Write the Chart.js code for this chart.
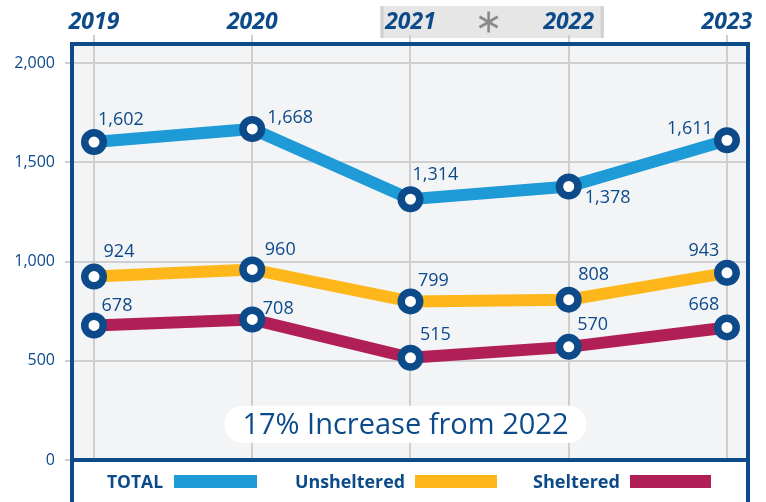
<!DOCTYPE html>
<html>
<head>
<meta charset="utf-8">
<script src="https://cdn.jsdelivr.net/npm/chart.js@4/dist/chart.umd.min.js"></script>
<style>
html,body{margin:0;padding:0;background:#ffffff;}
#wrap{width:766px;height:502px;position:relative;}
</style>
</head>
<body>
<div id="wrap"><canvas id="c" width="766" height="502"></canvas></div>
<script>
// ---- data ----
const years = ['2019', '2020', '2021', '2022', '2023'];
const totalValues = [1602, 1668, 1314, 1378, 1611];
const unshelteredValues = [924, 960, 799, 808, 943];
const shelteredValues = [678, 708, 515, 570, 668];
const yTickValues = [0, 500, 1000, 1500, 2000];
const seriesNames = ['TOTAL', 'Unsheltered', 'Sheltered'];
const noteText = '17% Increase from 2022';

// ---- style ----
const NAVY = '#0c4a8a';
const colors = ['#1e9ad6', '#fdb71b', '#b01f56'];
const labelOffsets = [
  [[27,-22],[38,-11],[25,-24],[39,11],[-37,-11]],
  [[25,-25],[28,-20],[23,-21],[25,-25],[-23,-22]],
  [[23,-20],[26,-11],[25,-23],[24,-22],[-23,-23]]
];
const FONT = '"Open Sans", "Noto Sans", sans-serif';

function pts(vals){ return vals.map((v,i)=>({x:i, y:v})); }

const seriesValues = [totalValues, unshelteredValues, shelteredValues];
const datasets = seriesValues.map((vals, k) => ({
  label: seriesNames[k],
  data: pts(vals),
  borderColor: colors[k],
  backgroundColor: colors[k],
  borderWidth: 12,
  tension: 0,
  pointRadius: 9.25,
  pointHoverRadius: 9.25,
  pointBorderWidth: 7.5,
  pointBorderColor: NAVY,
  pointBackgroundColor: '#ffffff',
  order: 3 - k
}));

const decor = {
  id: 'decor',
  beforeDraw(chart){
    const {ctx, chartArea:a, scales} = chart;
    ctx.save();
    ctx.fillStyle = '#f3f4f6';
    ctx.fillRect(a.left, a.top, a.right - a.left, a.bottom - a.top);
    // header highlight behind 2021 * 2022
    const x1 = scales.x.getPixelForValue(2) - 30;
    const x2 = scales.x.getPixelForValue(3) + 35;
    ctx.fillStyle = '#e6e6e6';
    ctx.fillRect(x1, 6, x2 - x1, 32);
    ctx.fillStyle = '#cfcfcf';
    ctx.fillRect(x1, 6, 3, 32);
    ctx.fillRect(x2 - 3, 6, 3, 32);
    ctx.restore();
  },
  afterDraw(chart){
    const {ctx, chartArea:a, scales} = chart;
    ctx.save();
    // asterisk
    const ax = (scales.x.getPixelForValue(2) + scales.x.getPixelForValue(3)) / 2 - 1;
    ctx.strokeStyle = '#8a8a8a';
    ctx.lineWidth = 2.6;
    for (let i = 0; i < 3; i++) {
      const ang = Math.PI / 2 + i * Math.PI / 3;
      ctx.beginPath();
      ctx.moveTo(ax + Math.cos(ang) * 10.5, 22 + Math.sin(ang) * 10.5);
      ctx.lineTo(ax - Math.cos(ang) * 10.5, 22 - Math.sin(ang) * 10.5);
      ctx.stroke();
    }
    // data labels
    ctx.fillStyle = NAVY;
    ctx.font = '18px ' + FONT;
    ctx.textAlign = 'center';
    ctx.textBaseline = 'middle';
    chart.data.datasets.forEach((ds, k) => {
      const meta = chart.getDatasetMeta(k);
      meta.data.forEach((el, i) => {
        const v = ds.data[i].y;
        const o = labelOffsets[k][i];
        ctx.fillText(v.toLocaleString('en-US'), el.x + o[0], el.y + o[1]);
      });
    });
    // annotation box
    ctx.font = '29px ' + FONT;
    const tw = ctx.measureText(noteText).width;
    const cx = scales.x.getPixelForValue(2) - 5;
    const cy = scales.y.getPixelForValue(180);
    const bw = tw + 36, bh = 37;
    ctx.fillStyle = '#ffffff';
    ctx.beginPath();
    ctx.roundRect(cx - bw/2, cy - bh/2, bw, bh, 18);
    ctx.fill();
    ctx.fillStyle = NAVY;
    ctx.fillText(noteText, cx, cy + 1);
    // frame
    ctx.strokeStyle = NAVY;
    ctx.lineWidth = 4;
    ctx.strokeRect(a.left, a.top, a.right - a.left, 520 - a.top);
    ctx.beginPath();
    ctx.moveTo(a.left, a.bottom);
    ctx.lineTo(a.right, a.bottom);
    ctx.stroke();
    // legend
    const legend = [
      {tx: 107, tw: 56, sx: 174, sw: 83},
      {tx: 295, tw: 110, sx: 415, sw: 82},
      {tx: 533, tw: 87, sx: 630, sw: 81}
    ];
    ctx.textAlign = 'left';
    ctx.textBaseline = 'alphabetic';
    ctx.font = 'bold 18.5px ' + FONT;
    chart.data.datasets.forEach((ds, k) => {
      const L = legend[k];
      const w = ctx.measureText(ds.label).width;
      ctx.save();
      ctx.translate(L.tx, 488);
      ctx.scale(L.tw / w, 1);
      ctx.fillStyle = NAVY;
      ctx.fillText(ds.label, 0, 0);
      ctx.restore();
      ctx.fillStyle = ds.borderColor;
      ctx.fillRect(L.sx, 475, L.sw, 13);
    });
    ctx.restore();
  }
};

new Chart(document.getElementById('c'), {
  type: 'line',
  data: { datasets },
  options: {
    responsive: false,
    animation: false,
    devicePixelRatio: 1,
    layout: { padding: { left: 0, right: 18, top: 0, bottom: 42 } },
    plugins: { legend: { display: false }, tooltip: { enabled: false } },
    scales: {
      x: {
        type: 'linear',
        position: 'top',
        min: -0.139,
        max: 4.133,
        afterFit(s){ s.height = 44; },
        afterBuildTicks(s){ s.ticks = years.map((y,i)=>({value:i})); },
        ticks: {
          callback: (v) => years[v],
          color: NAVY,
          font: { family: FONT, size: 23, weight: 'bold', style: 'italic' },
          padding: -1,
          maxRotation: 0,
          autoSkip: false
        },
        grid: { color: '#cfcfcf', lineWidth: 2, tickLength: 9, drawTicks: true },
        border: { display: false }
      },
      y: {
        min: 0,
        max: 2096,
        afterFit(s){ s.width = 72; },
        afterBuildTicks(s){ s.ticks = yTickValues.map(v=>({value:v})); },
        ticks: {
          callback: (v) => v.toLocaleString('en-US'),
          color: NAVY,
          font: { family: FONT, size: 16 },
          padding: 10
        },
        grid: { color: '#cfcfcf', lineWidth: 2, tickLength: 7 },
        border: { display: false }
      }
    }
  },
  plugins: [decor]
});
</script>
</body>
</html>
